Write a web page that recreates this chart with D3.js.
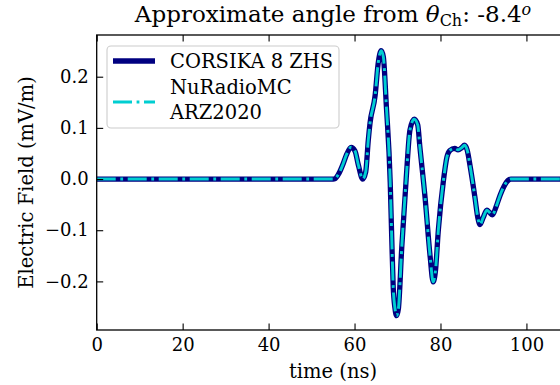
<!DOCTYPE html>
<html>
<head>
<meta charset="utf-8">
<script src="https://cdn.jsdelivr.net/npm/d3@7/dist/d3.min.js"></script>
<style>
  html, body { margin: 0; padding: 0; background: #fff; }
  svg { display: block; }
  text { font-family: "DejaVu Serif", serif; fill: #000; }
</style>
</head>
<body>
<svg id="chart" width="560" height="385"></svg>
<script>
// Time samples (ns) of the pulse
const timeNs = [0, 55.0, 55.5, 56.3, 57.4, 58.1, 59.2, 60.1, 60.9, 61.9, 62.6, 63.2, 63.6,
  64.8, 65.5, 66.2, 66.7, 67.4, 68.3, 68.65, 69.0, 69.4, 69.8, 70.2, 71.0, 72.0, 72.9,
  73.9, 74.7, 75.2, 76.4, 77.6, 78.3, 78.8, 79.5, 80.7, 81.5, 82.2, 83.3, 84.1, 84.9,
  85.6, 86.2, 86.9, 88.0, 88.7, 89.2, 89.9, 90.8, 91.4, 92.1, 92.9, 93.9, 94.8, 95.8,
  96.4, 110];

// Electric field (mV/m), CORSIKA 8 ZHS
const corsikaField = [0, 0, 0.001, 0.010, 0.031, 0.047, 0.062, 0.055, 0.027, 0.0, 0.014,
  0.076, 0.109, 0.164, 0.226, 0.251, 0.239, 0.143, -0.006, -0.113, -0.211, -0.252,
  -0.267, -0.254, -0.132, -0.002, 0.096, 0.117, 0.106, 0.063, -0.035, -0.152, -0.201,
  -0.182, -0.100, -0.002, 0.043, 0.056, 0.060, 0.057, 0.061, 0.066, 0.057, 0.025,
  -0.035, -0.076, -0.089, -0.076, -0.061, -0.065, -0.070, -0.055, -0.031, -0.014,
  -0.002, 0, 0];

// Electric field (mV/m), NuRadioMC ARZ2020
const arzField = [0, 0, 0.001, 0.010, 0.031, 0.047, 0.062, 0.055, 0.027, 0.0, 0.014,
  0.076, 0.109, 0.164, 0.226, 0.251, 0.239, 0.143, -0.006, -0.113, -0.211, -0.252,
  -0.267, -0.254, -0.132, -0.002, 0.096, 0.117, 0.106, 0.063, -0.035, -0.152, -0.201,
  -0.182, -0.100, -0.002, 0.043, 0.056, 0.060, 0.057, 0.061, 0.066, 0.057, 0.025,
  -0.035, -0.076, -0.089, -0.076, -0.061, -0.065, -0.070, -0.055, -0.031, -0.014,
  -0.002, 0, 0];

const xTicks = [0, 20, 40, 60, 80, 100];
const yTicks = [-0.2, -0.1, 0.0, 0.1, 0.2];
const xDomain = [0, 110];
const yDomain = [-0.295, 0.2815];

const seriesNames = ["CORSIKA 8 ZHS", ["NuRadioMC", "ARZ2020"]];

const svg = d3.select("#chart");
const plot = { left: 96.7, right: 569.4, top: 35, bottom: 330 };
const TICK_FS = 18;
const LABEL_FS = 19.5;
const TITLE_FS = 23;

const x = d3.scaleLinear().domain(xDomain).range([plot.left, plot.right]);
const y = d3.scaleLinear().domain(yDomain).range([plot.bottom, plot.top]);

svg.append("defs").append("clipPath").attr("id", "plotClip")
  .append("rect")
  .attr("x", plot.left).attr("y", plot.top)
  .attr("width", plot.right - plot.left).attr("height", plot.bottom - plot.top);

const line = d3.line()
  .x(d => x(d[0]))
  .y(d => y(d[1]))
  .curve(d3.curveMonotoneX);

const corsikaPts = timeNs.map((t, i) => [t, corsikaField[i]]);
const arzPts = timeNs.map((t, i) => [t, arzField[i]]);

const g = svg.append("g").attr("clip-path", "url(#plotClip)");
g.append("path").datum(corsikaPts)
  .attr("d", line)
  .attr("fill", "none")
  .attr("stroke", "#000080")
  .attr("stroke-width", 5.3)
  .attr("stroke-linejoin", "round");
g.append("path").datum(arzPts)
  .attr("d", line)
  .attr("fill", "none")
  .attr("stroke", "#00ced1")
  .attr("stroke-width", 2.9)
  .attr("stroke-dasharray", "19,4.6,2.8,4.6");

// Axes: ticks point inward on all sides
const tickLen = 6.5;
const xAxisBottom = d3.axisBottom(x).tickValues(xTicks).tickFormat(d3.format("d"))
  .tickSizeInner(-tickLen).tickSizeOuter(0).tickPadding(8.5);
const xAxisTop = d3.axisTop(x).tickValues(xTicks).tickFormat("")
  .tickSizeInner(-tickLen).tickSizeOuter(0);
const yAxisLeft = d3.axisLeft(y).tickValues(yTicks)
  .tickFormat(d => d3.format(".1f")(d).replace("-", "\u2212"))
  .tickSizeInner(-tickLen).tickSizeOuter(0).tickPadding(8);

function styleAxis(sel) {
  sel.select(".domain").remove();
  sel.selectAll(".tick line").attr("stroke", "#000").attr("stroke-width", 1.1);
  sel.selectAll(".tick text").attr("font-family", "DejaVu Serif").attr("font-size", TICK_FS).attr("fill", "#000");
}

svg.append("g").attr("transform", `translate(0,${plot.bottom})`).call(xAxisBottom).call(styleAxis);
svg.append("g").attr("transform", `translate(0,${plot.top})`).call(xAxisTop).call(styleAxis);
svg.append("g").attr("transform", `translate(${plot.left},0)`).call(yAxisLeft).call(styleAxis);

// Frame
svg.append("rect")
  .attr("x", plot.left).attr("y", plot.top)
  .attr("width", plot.right - plot.left).attr("height", plot.bottom - plot.top)
  .attr("fill", "none").attr("stroke", "#000").attr("stroke-width", 1.3);

// Axis titles
svg.append("text")
  .attr("x", (plot.left + plot.right) / 2).attr("y", 378)
  .attr("text-anchor", "middle").attr("font-size", LABEL_FS)
  .text("time (ns)");
svg.append("text")
  .attr("transform", `translate(32.5,${(plot.top + plot.bottom) / 2}) rotate(-90)`)
  .attr("text-anchor", "middle").attr("font-size", LABEL_FS)
  .text("Electric Field (mV/m)");

// Title with theta_Ch subscript and superscript o
const title = svg.append("text")
  .attr("x", (plot.left + plot.right) / 2).attr("y", 22)
  .attr("text-anchor", "middle").attr("font-size", TITLE_FS);
title.append("tspan").text("Approximate angle from ");
title.append("tspan").attr("font-style", "italic").text("\u03b8");
title.append("tspan").attr("font-size", 16).attr("dy", 3.5).text("Ch");
title.append("tspan").attr("dy", -3.5).text(": -8.4");
title.append("tspan").attr("font-style", "italic").attr("font-size", 16).attr("dy", -7).text("o");

// Legend
const leg = svg.append("g");
leg.append("rect")
  .attr("x", 107).attr("y", 46).attr("width", 232).attr("height", 82)
  .attr("rx", 4).attr("ry", 4)
  .attr("fill", "#fff").attr("fill-opacity", 0.8)
  .attr("stroke", "#cccccc").attr("stroke-width", 1.1);
leg.append("line")
  .attr("x1", 113).attr("x2", 155).attr("y1", 61).attr("y2", 61)
  .attr("stroke", "#000080").attr("stroke-width", 5.3);
leg.append("line")
  .attr("x1", 113).attr("x2", 155).attr("y1", 102).attr("y2", 102)
  .attr("stroke", "#00ced1").attr("stroke-width", 2.9)
  .attr("stroke-dasharray", "19,4.6,2.8,4.6");
leg.append("text").attr("x", 170).attr("y", 68).attr("font-size", LABEL_FS).text(seriesNames[0]);
leg.append("text").attr("x", 170).attr("y", 94).attr("font-size", LABEL_FS).text(seriesNames[1][0]);
leg.append("text").attr("x", 170).attr("y", 119).attr("font-size", LABEL_FS).text(seriesNames[1][1]);
</script>
</body>
</html>
